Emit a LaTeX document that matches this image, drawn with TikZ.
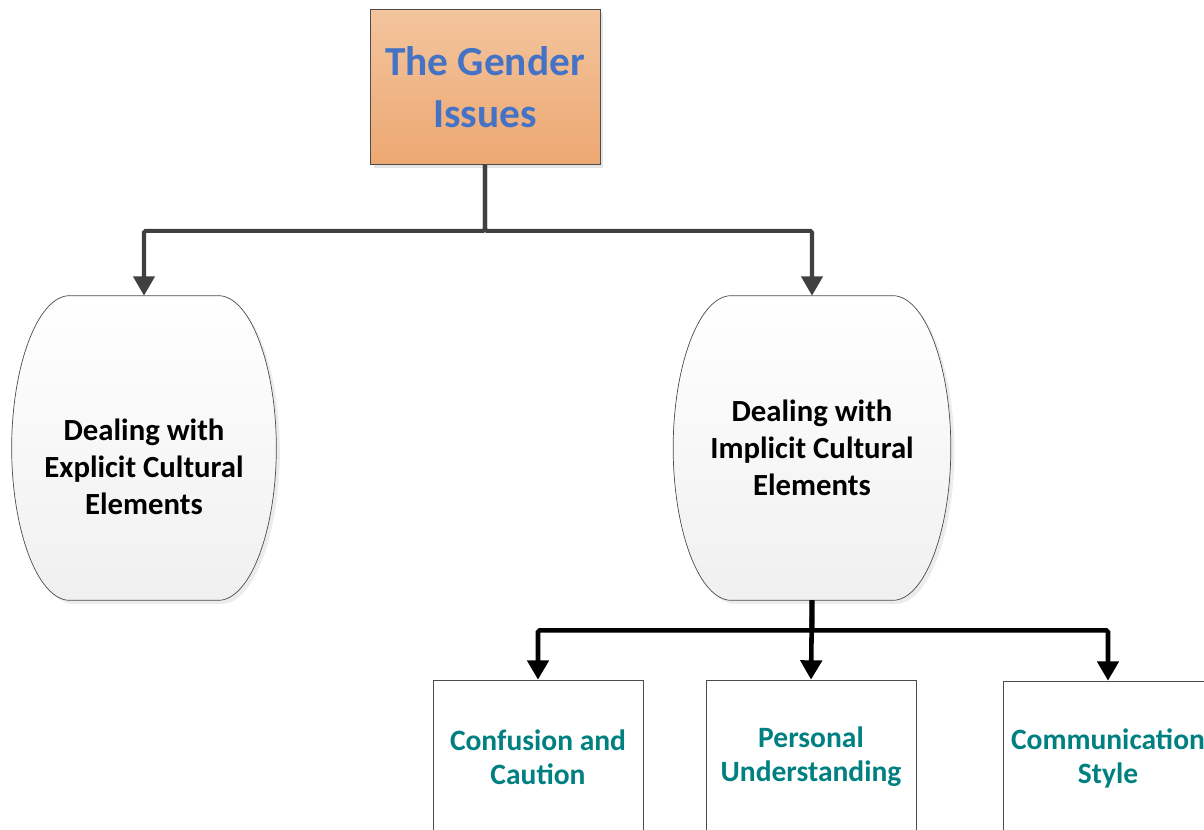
\documentclass[tikz,border=0pt]{standalone}
\usepackage{fontspec}
\setmainfont{Carlito}
\usetikzlibrary{arrows.meta,positioning,calc,backgrounds,shadows}
\definecolor{orangetop}{RGB}{243,196,157}
\definecolor{orangebot}{RGB}{237,168,114}
\definecolor{titleblue}{RGB}{68,114,196}
\definecolor{aspectteal}{RGB}{0,128,128}
\definecolor{linegray}{RGB}{64,64,64}

\begin{document}
\begin{tikzpicture}[
    x=0.02cm, y=-0.02cm,
    topic/.style={rectangle, draw=black!70, top color=orangetop, bottom color=orangebot, minimum width=4.6cm, minimum height=3.1cm, align=center, text=titleblue, font=\fontsize{23.5}{29.5}\selectfont\bfseries, drop shadow={shadow xshift=2pt, shadow yshift=-2pt, fill=black!20}},
    barreltext/.style={align=center, font=\fontsize{17.5}{21}\selectfont\bfseries},
    barrel/.style={barreltext, minimum width=5.28cm, minimum height=6.08cm},
    outline/.style={draw=black!70, top color=white, bottom color=gray!12, drop shadow={shadow xshift=2pt, shadow yshift=-2pt, fill=black!15}},
    aspect/.style={rectangle, draw=black!70, fill=white, minimum width=4.2cm, minimum height=3.08cm, align=center, text=aspectteal, font=\fontsize{16.8}{19.4}\selectfont\bfseries},
    branch/.style={-{Triangle[length=11pt, width=12pt]}, line width=2.3pt, linegray, rounded corners=1pt},
    subbranch/.style={branch, black, line width=2.6pt}
]
\useasboundingbox (0,0) rectangle (1204,830);
\clip (0,0) rectangle (1204,830);

% Main topic
\node[topic] (gender) at (485,87) {The Gender\\Issues};

% Two ways of dealing
\node[barrel, label={[barreltext, yshift=-0.38cm]center:Dealing with\\Explicit Cultural\\Elements}] (explicit) at (144,448) {};
\node[barrel, minimum width=5.54cm] (implicit) at (812,448) {Dealing with\\Implicit Cultural\\Elements};

% Aspects
\node[aspect] (confusion) at (538,757) {Confusion and\\Caution};
\node[aspect] (personal) at (811,757) {Personal\\Understanding};
\node[aspect] (communication) at (1108,758) {Communication\\Style};

% Barrel outlines
\begin{scope}[on background layer]
\foreach \n in {explicit,implicit} {
    \draw[outline] ($(\n.north west)+(58,0)$) -- ($(\n.north east)+(-58,0)$)
        .. controls ($(\n.north east)+(-26,0)$) and ($(\n.east)+(0,-82)$) .. (\n.east)
        .. controls ($(\n.east)+(0,82)$) and ($(\n.south east)+(-26,0)$) .. ($(\n.south east)+(-58,0)$)
        -- ($(\n.south west)+(58,0)$)
        .. controls ($(\n.south west)+(26,0)$) and ($(\n.west)+(0,82)$) .. (\n.west)
        .. controls ($(\n.west)+(0,-82)$) and ($(\n.north west)+(26,0)$) .. cycle;
}
\end{scope}

% Connectors
\draw[branch] (gender.south) -- ++(0,66) -| (explicit.north);
\draw[branch] (gender.south) -- ++(0,66) -| (implicit.north);

\draw[subbranch] (implicit.south) -- ++(0,30) -| (confusion.north);
\draw[subbranch] (implicit.south) -- (personal.north);
\draw[subbranch] (implicit.south) -- ++(0,30) -| (communication.north);

\end{tikzpicture}
\end{document}
